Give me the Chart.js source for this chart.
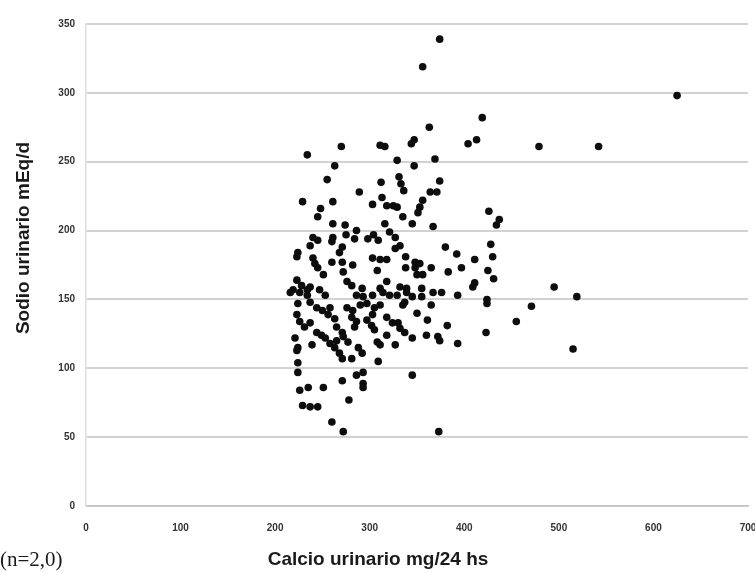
<!DOCTYPE html>
<html>
<head>
<meta charset="utf-8">
<script src="https://cdn.jsdelivr.net/npm/chart.js@4"></script>
<style>
  html, body { margin: 0; padding: 0; background: #fff; }
  canvas { display: block; }
</style>
</head>
<body>
<canvas id="scatterChart" width="755" height="573"></canvas>
<script>
// calcio urinario (mg/24 hs) and sodio urinario (mEq/d)
const calcio = [
  374, 356, 363, 419, 404, 413, 625, 479, 542, 234, 270, 311, 316, 344, 347, 263,
  329, 347, 369, 255, 312, 331, 333, 336, 374, 364, 371, 289, 313, 229, 261, 303,
  318, 325, 329, 356, 353, 351, 248, 245, 335, 345, 316, 367, 261, 274, 286, 321,
  240, 237, 261, 260, 275, 284, 298, 304, 327, 271, 224, 327, 380, 392, 240, 242,
  245, 251, 271, 282, 303, 318, 338, 348, 353, 308, 338, 365, 383, 397, 411, 350,
  356, 276, 281, 318, 332, 292, 411, 409, 376, 393, 431, 425, 428, 430, 426, 437,
  434, 495, 519, 424, 424, 471, 455, 382, 423, 374, 393, 515, 373, 224, 226, 235,
  251, 271, 286, 293, 293, 293, 345, 278, 229, 237, 245, 260, 272, 281, 309, 224,
  245, 223, 268, 260, 272, 223, 228, 219, 216, 226, 234, 247, 253, 237, 224, 223,
  226, 231, 237, 244, 250, 256, 263, 258, 265, 271, 244, 249, 253, 258, 263, 268,
  271, 221, 224, 223, 239, 272, 277, 265, 276, 282, 290, 297, 305, 311, 281, 286,
  284, 297, 302, 305, 308, 311, 288, 292, 303, 318, 330, 332, 350, 361, 318, 337,
  345, 360, 372, 327, 365, 324, 335, 337, 286, 293, 303, 314, 321, 329, 339, 345,
  355, 367, 311, 339, 355, 311, 348, 309, 332, 234, 237
];
const sodio = [
  339, 319, 275, 282, 263, 266, 298, 261, 261, 255, 261, 262, 261, 263, 266, 247,
  251, 247, 252, 237, 235, 239, 234, 229, 236, 228, 228, 228, 224, 221, 221, 219,
  218, 218, 217, 222, 217, 213, 216, 210, 210, 205, 205, 203, 205, 204, 200, 199,
  195, 189, 195, 192, 197, 194, 194, 197, 195, 188, 184, 187, 188, 183, 180, 176,
  173, 168, 177, 175, 180, 179, 181, 177, 176, 171, 173, 173, 170, 173, 179, 168,
  168, 163, 160, 163, 159, 158, 162, 159, 155, 153, 165, 171, 190, 181, 214, 208,
  204, 159, 152, 150, 147, 145, 134, 131, 126, 120, 118, 114, 54, 97, 84, 86,
  86, 91, 95, 97, 89, 86, 95, 77, 73, 72, 72, 61, 54, 107, 105, 104,
  193, 181, 184, 177, 170, 164, 160, 157, 155, 155, 157, 157, 153, 148, 147, 139,
  134, 130, 133, 144, 142, 139, 136, 144, 130, 126, 126, 124, 122, 118, 115, 111,
  107, 122, 115, 113, 117, 123, 119, 120, 144, 142, 146, 147, 144, 146, 137, 134,
  130, 135, 131, 128, 119, 117, 115, 111, 139, 137, 133, 129, 140, 135, 124, 126,
  122, 124, 123, 117, 146, 133, 146, 148, 153, 152, 153, 155, 153, 153, 155, 152,
  152, 155, 158, 158, 158, 179, 173, 193, 189, 153, 159
];

const xTicks = [0, 100, 200, 300, 400, 500, 600, 700];
const yTicks = [0, 50, 100, 150, 200, 250, 300, 350];
const xTitle = "Calcio urinario mg/24 hs";
const yTitle = "Sodio urinario mEq/d";
const note = "(n=2,0)";

const points = calcio.map((c, i) => ({ x: c, y: sodio[i] }));

// axis titles and the note sit where the original figure put them
const titlesPlugin = {
  id: "titles",
  afterDraw(chart) {
    const ctx = chart.ctx;
    ctx.save();
    ctx.fillStyle = "#1a1a1a";
    ctx.font = "bold 19px 'Liberation Sans', Arial, sans-serif";
    ctx.textAlign = "center";
    ctx.textBaseline = "alphabetic";
    ctx.fillText(xTitle, 378, 565);
    ctx.translate(29, 238);
    ctx.rotate(-Math.PI / 2);
    ctx.fillText(yTitle, 0, 0);
    ctx.restore();

    ctx.save();
    ctx.fillStyle = "#1a1a1a";
    ctx.font = "21px 'Liberation Serif', serif";
    ctx.textAlign = "left";
    ctx.fillText(note, 0, 566);
    ctx.restore();
  }
};

new Chart(document.getElementById("scatterChart").getContext("2d"), {
  type: "scatter",
  data: {
    datasets: [{
      data: points,
      backgroundColor: "#0d0d0d",
      borderColor: "#0d0d0d",
      pointRadius: 3.8,
      pointBorderWidth: 0
    }]
  },
  options: {
    responsive: false,
    animation: false,
    layout: { padding: { top: 24, right: 7, bottom: 0, left: 0 } },
    plugins: {
      legend: { display: false },
      tooltip: { enabled: false }
    },
    scales: {
      x: {
        type: "linear",
        min: xTicks[0],
        max: xTicks[xTicks.length - 1],
        afterBuildTicks: (s) => { s.ticks = xTicks.map(v => ({ value: v })); },
        afterFit: (s) => { s.height = 67; s.paddingLeft = 0; s.paddingRight = 0; },
        ticks: {
          font: { family: "'Liberation Sans', Arial", size: 10, weight: "bold" },
          color: "#333",
          padding: 16,
          maxRotation: 0
        },
        grid: { display: true, drawOnChartArea: false, drawTicks: false },
        border: { display: true, color: "#c4c4c4", width: 1.5 }
      },
      y: {
        type: "linear",
        min: yTicks[0],
        max: yTicks[yTicks.length - 1],
        afterBuildTicks: (s) => { s.ticks = yTicks.map(v => ({ value: v })); },
        afterFit: (s) => { s.width = 86; s.paddingTop = 0; s.paddingBottom = 0; },
        ticks: {
          font: { family: "'Liberation Sans', Arial", size: 10, weight: "bold" },
          color: "#333",
          padding: 11
        },
        grid: { color: "#d2d2d2", lineWidth: 2, drawTicks: false },
        border: { display: true, color: "#dedede", width: 1.5 }
      }
    }
  },
  plugins: [titlesPlugin]
});
</script>
</body>
</html>
